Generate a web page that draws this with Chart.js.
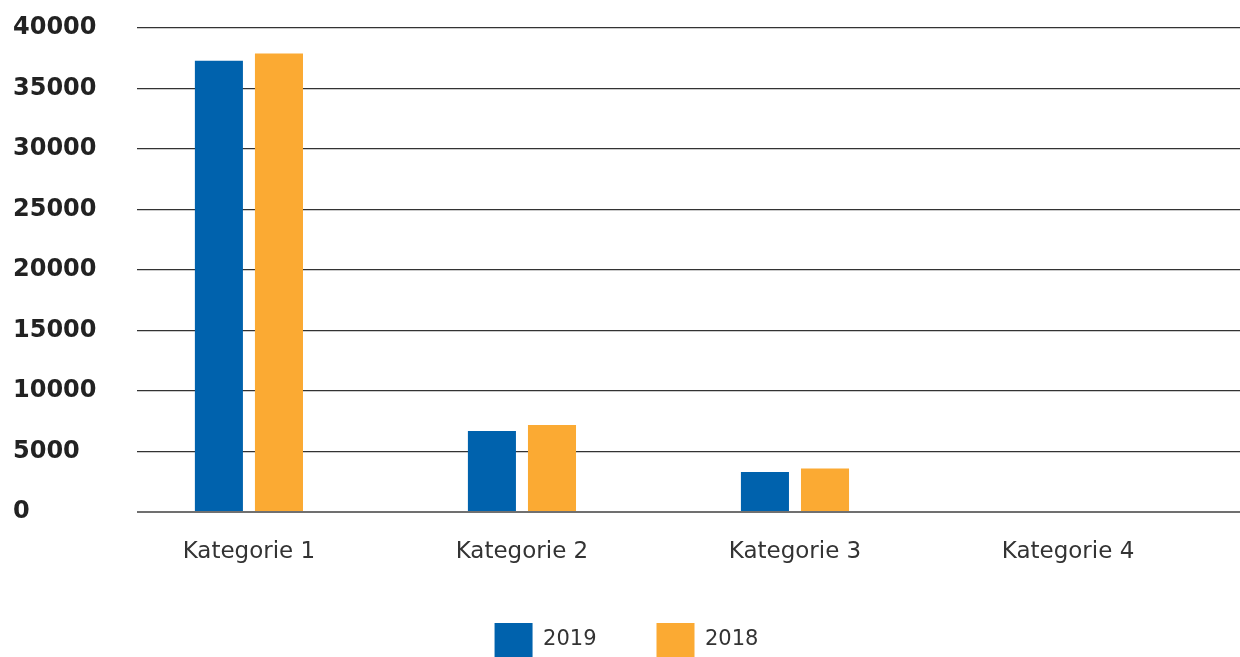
<!DOCTYPE html>
<html>
<head>
<meta charset="utf-8">
<script src="https://cdn.jsdelivr.net/npm/chart.js@4/dist/chart.umd.min.js"></script>
<style>
  html, body { margin: 0; padding: 0; background: #fff; overflow: hidden; }
</style>
</head>
<body>
<canvas id="chart" width="1240" height="667"></canvas>
<script>
const categories = ["Kategorie 1", "Kategorie 2", "Kategorie 3", "Kategorie 4"];
const values2019 = [37300, 6700, 3300, 0];
const values2018 = [37900, 7200, 3600, 0];
const yTicks = [0, 5000, 10000, 15000, 20000, 25000, 30000, 35000, 40000];

const toPoints = arr => arr.map((v, i) => ({ x: i, y: v }));

new Chart(document.getElementById("chart"), {
  type: "bar",
  data: {
    datasets: [
      { label: "2019", data: toPoints(values2019), backgroundColor: "#0062AD" },
      { label: "2018", data: toPoints(values2018), backgroundColor: "#FBAA33" }
    ]
  },
  options: {
    responsive: false,
    animation: false,
    layout: { padding: { left: 13, top: 28, right: 0, bottom: 0 } },
    datasets: { bar: { barPercentage: 0.8, categoryPercentage: 0.44 } },
    plugins: {
      tooltip: { enabled: false },
      legend: {
        position: "bottom",
        labels: {
          boxWidth: 38,
          boxHeight: 34,
          padding: 60,
          color: "#333",
          font: { family: "DejaVu Sans", size: 21 }
        }
      }
    },
    scales: {
      x: {
        type: "linear",
        offset: false,
        min: -0.41,
        max: 3.63,
        afterBuildTicks: s => { s.ticks = categories.map((c, i) => ({ value: i })); },
        afterFit: s => { s.height = 51; },
        ticks: {
          padding: 26,
          color: "#333",
          font: { family: "DejaVu Sans", size: 23 },
          callback: v => categories[v]
        },
        grid: { display: false, drawTicks: false },
        border: { display: false }
      },
      y: {
        min: 0,
        max: 40000,
        afterBuildTicks: s => { s.ticks = yTicks.map(v => ({ value: v })); },
        afterFit: s => { s.width = 124; },
        ticks: {
          crossAlign: "far",
          color: "#222",
          font: { family: "DejaVu Sans", size: 24, weight: "bold" },
          callback: v => String(v)
        },
        grid: {
          drawTicks: false,
          color: c => c.tick && c.tick.value === 0 ? "#707070" : "#333",
          lineWidth: c => c.tick && c.tick.value === 0 ? 2 : 1.2
        },
        border: { display: false }
      }
    }
  }
});
</script>
</body>
</html>
